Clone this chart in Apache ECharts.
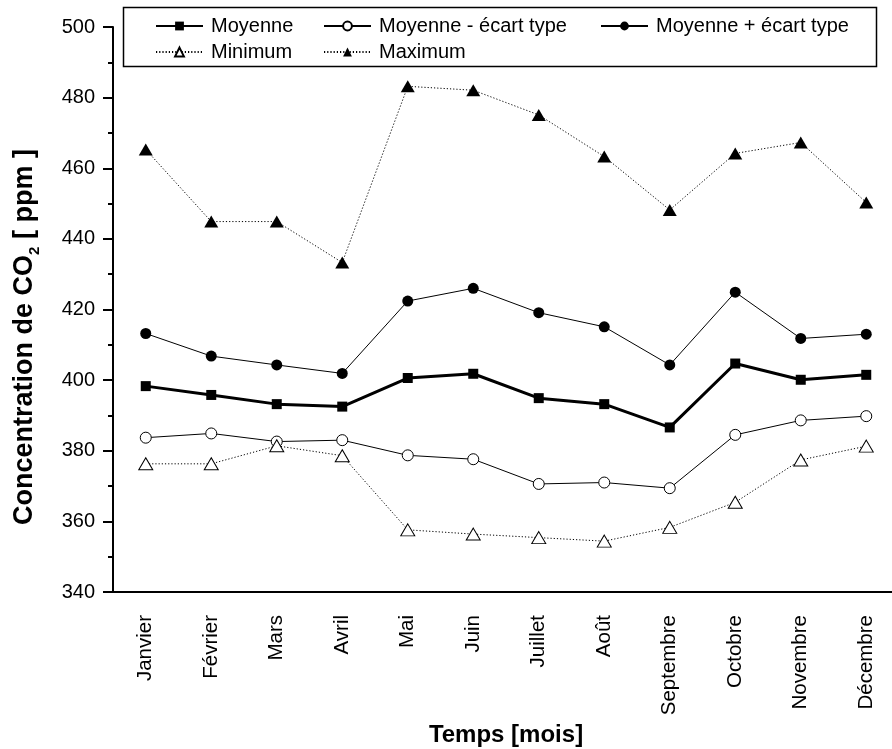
<!DOCTYPE html>
<html>
<head>
<meta charset="utf-8">
<script src="https://cdn.jsdelivr.net/npm/echarts@6/dist/echarts.min.js"></script>
<style>
  html, body { margin: 0; padding: 0; background: #fff; }
  #chart { width: 892px; height: 749px; }
</style>
</head>
<body>
<div id="chart"></div>
<script>
// Monthly CO2 concentration statistics (ppm)
const months = ['Janvier', 'Février', 'Mars', 'Avril', 'Mai', 'Juin',
                'Juillet', 'Août', 'Septembre', 'Octobre', 'Novembre', 'Décembre'];
const moyenne      = [398.3, 395.8, 393.2, 392.5, 400.6, 401.8, 394.9, 393.2, 386.6, 404.7, 400.1, 401.5];
const moyenneMoins = [383.7, 384.9, 382.6, 383.0, 378.7, 377.6, 370.6, 371.0, 369.4, 384.5, 388.6, 389.8];
const moyennePlus  = [413.2, 406.8, 404.3, 401.9, 422.4, 426.0, 419.1, 415.1, 404.3, 424.9, 411.8, 413.0];
const minimum      = [376.3, 376.3, 381.4, 378.6, 357.6, 356.4, 355.4, 354.4, 358.3, 365.4, 377.4, 381.3];
const maximum      = [465.3, 444.9, 444.9, 433.3, 483.2, 482.1, 475.1, 463.3, 448.2, 464.2, 467.3, 450.3];
const yTicks = [340, 360, 380, 400, 420, 440, 460, 480, 500];

const FONT = '"Liberation Sans", Arial, Helvetica, sans-serif';
const BLACK = '#000';

const chart = echarts.init(document.getElementById('chart'), null, { renderer: 'canvas' });

function legendAt(name, left, top) {
  return {
    show: true,
    data: [name],
    left: left,
    top: top,
    padding: 0,
    itemWidth: 47,
    itemHeight: 11,
    itemGap: 0,
    selectedMode: false,
    textStyle: { fontFamily: FONT, fontSize: 20, color: BLACK, padding: [0, 0, 0, 3] }
  };
}

const option = {
  animation: false,
  backgroundColor: '#fff',
  textStyle: { fontFamily: FONT, color: BLACK },
  grid: { left: 113, top: 27, right: -7, bottom: 157, containLabel: false, outerBoundsMode: 'none' },
  legend: [
    legendAt('Moyenne', 155, 16),
    legendAt('Moyenne - écart type', 323, 16),
    legendAt('Moyenne + écart type', 600, 16),
    legendAt('Minimum', 155, 42),
    legendAt('Maximum', 323, 42)
  ],
  graphic: [
    {
      // legend frame
      type: 'rect',
      shape: { x: 123.5, y: 7.5, width: 753, height: 59 },
      style: { fill: 'none', stroke: BLACK, lineWidth: 1.5 },
      z: 100
    },
    {
      // y-axis title with subscript
      type: 'text',
      x: 25,
      y: 337,
      rotation: Math.PI / 2,
      style: {
        text: '{a|Concentration de CO}{s|2}{a| [ ppm ]}',
        align: 'center',
        verticalAlign: 'middle',
        rich: {
          a: { fontFamily: FONT, fontSize: 27, fontWeight: 'bold', fill: BLACK, lineHeight: 34, verticalAlign: 'middle' },
          s: { fontFamily: FONT, fontSize: 15, fontWeight: 'bold', fill: BLACK, lineHeight: 34, verticalAlign: 'bottom' }
        }
      },
      z: 100
    }
  ],
  xAxis: {
    type: 'category',
    data: months,
    boundaryGap: true,
    name: 'Temps [mois]',
    nameLocation: 'middle',
    nameGap: 131,
    nameTextStyle: { fontFamily: FONT, fontSize: 24, fontWeight: 'bold', color: BLACK },
    axisLine: { lineStyle: { color: BLACK, width: 2 } },
    axisTick: { alignWithLabel: true, length: 10, lineStyle: { color: BLACK, width: 2 } },
    axisLabel: { rotate: 90, margin: 23, fontFamily: FONT, fontSize: 20.5, color: BLACK },
    splitLine: { show: false }
  },
  yAxis: {
    type: 'value',
    min: yTicks[0],
    max: yTicks[yTicks.length - 1],
    interval: 20,
    axisLine: { show: true, lineStyle: { color: BLACK, width: 2 } },
    axisTick: { show: true, length: 10, lineStyle: { color: BLACK, width: 2 } },
    minorTick: { show: true, splitNumber: 2, length: 5, lineStyle: { color: BLACK, width: 2 } },
    axisLabel: { margin: 18, fontFamily: FONT, fontSize: 20, color: BLACK },
    splitLine: { show: false }
  },
  series: [
    {
      name: 'Moyenne', type: 'line', data: moyenne,
      symbol: 'rect', symbolSize: 10,
      lineStyle: { color: BLACK, width: 3 },
      itemStyle: { color: BLACK, borderColor: BLACK, borderWidth: 0 },
      z: 3
    },
    {
      name: 'Moyenne - écart type', type: 'line', data: moyenneMoins,
      symbol: 'circle', symbolSize: 11,
      lineStyle: { color: BLACK, width: 1 },
      itemStyle: { color: '#fff', borderColor: BLACK, borderWidth: 1 },
      z: 4
    },
    {
      name: 'Moyenne + écart type', type: 'line', data: moyennePlus,
      symbol: 'circle', symbolSize: 11,
      lineStyle: { color: BLACK, width: 1 },
      itemStyle: { color: BLACK, borderColor: BLACK, borderWidth: 0 },
      z: 5
    },
    {
      name: 'Minimum', type: 'line', data: minimum,
      symbol: 'triangle', symbolSize: [14, 12],
      lineStyle: { color: BLACK, width: 1, type: [1.2, 2] },
      itemStyle: { color: '#fff', borderColor: BLACK, borderWidth: 1 },
      z: 6
    },
    {
      name: 'Maximum', type: 'line', data: maximum,
      symbol: 'triangle', symbolSize: [14, 12],
      lineStyle: { color: BLACK, width: 1, type: [1.2, 2] },
      itemStyle: { color: BLACK, borderColor: BLACK, borderWidth: 0 },
      z: 7
    }
  ]
};

chart.setOption(option);
</script>
</body>
</html>
